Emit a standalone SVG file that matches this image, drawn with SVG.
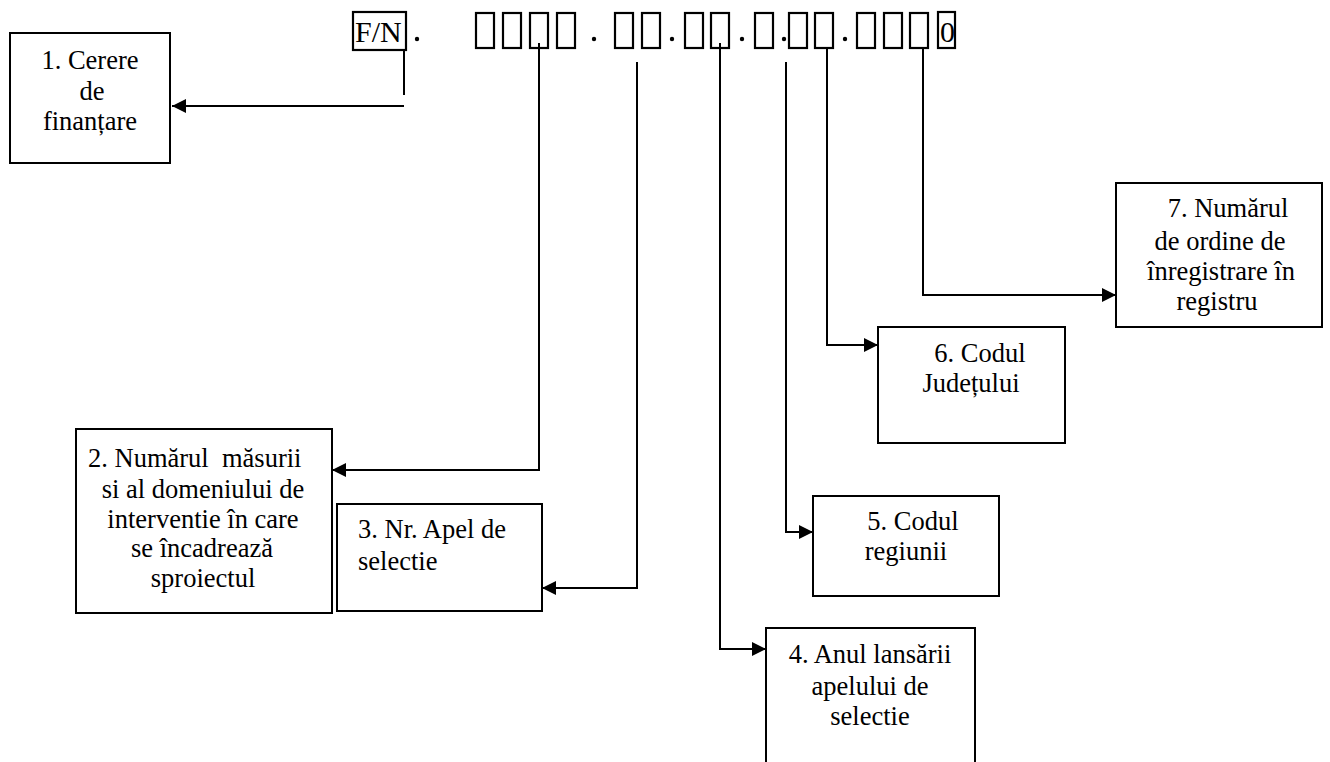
<svg xmlns="http://www.w3.org/2000/svg" width="1330" height="762" viewBox="0 0 1330 762">
<style>
  .box { fill: #fff; stroke: #000; stroke-width: 2; }
  .cell { fill: none; stroke: #000; stroke-width: 2.2; }
  .t { font-family: "Liberation Serif", "Times New Roman", serif; font-size: 26.5px; fill: #000; text-anchor: middle; }
  .l { text-anchor: start; }
  .code { font-family: "Liberation Serif", "Times New Roman", serif; font-size: 30px; fill: #000; }
  .conn { fill: none; stroke: #000; stroke-width: 2; }
</style>
<defs>
  <marker id="arr" markerUnits="userSpaceOnUse" markerWidth="14" markerHeight="14" refX="14" refY="7" orient="auto">
    <path d="M0,0 L14,7 L0,14 z" fill="#000"/>
  </marker>
</defs>
<rect width="1330" height="762" fill="#fff"/>

<g id="code">
  <rect class="cell" x="353" y="12" width="53" height="38"/>
  <text class="code" x="355" y="42">F/N</text>
  <circle cx="417" cy="39" r="2.2"/>
  <rect class="cell" x="476" y="13" width="18" height="35"/>
  <rect class="cell" x="503" y="13" width="18" height="35"/>
  <rect class="cell" x="530" y="13" width="18" height="35"/>
  <rect class="cell" x="557" y="13" width="18" height="35"/>
  <circle cx="594" cy="39" r="2.2"/>
  <rect class="cell" x="615" y="13" width="18" height="35"/>
  <rect class="cell" x="642" y="13" width="18" height="35"/>
  <circle cx="672" cy="39" r="2.2"/>
  <rect class="cell" x="685" y="13" width="18" height="35"/>
  <rect class="cell" x="711" y="13" width="18" height="35"/>
  <circle cx="742" cy="39" r="2.2"/>
  <rect class="cell" x="755" y="13" width="18" height="35"/>
  <circle cx="784" cy="39" r="2.2"/>
  <rect class="cell" x="789" y="13" width="18" height="35"/>
  <rect class="cell" x="815" y="13" width="18" height="35"/>
  <circle cx="845" cy="39" r="2.2"/>
  <rect class="cell" x="857" y="13" width="18" height="35"/>
  <rect class="cell" x="884" y="13" width="18" height="35"/>
  <rect class="cell" x="910" y="13" width="18" height="35"/>
  <rect class="cell" x="938" y="12" width="17" height="36"/>
  <text class="code" x="940" y="42">0</text>
</g>

<g id="connectors">
  <line class="conn" x1="404" y1="50" x2="404" y2="95"/>
  <line class="conn" x1="404" y1="106" x2="172" y2="106" marker-end="url(#arr)"/>
  <polyline class="conn" points="539,43 539,470 332,470" marker-end="url(#arr)"/>
  <polyline class="conn" points="637,62 637,588 542,588" marker-end="url(#arr)"/>
  <polyline class="conn" points="720,43 720,649 766,649" marker-end="url(#arr)"/>
  <polyline class="conn" points="786,62 786,532 813,532" marker-end="url(#arr)"/>
  <polyline class="conn" points="827,47 827,345 878,345" marker-end="url(#arr)"/>
  <polyline class="conn" points="923,47 923,295 1116,295" marker-end="url(#arr)"/>
</g>

<g id="node1">
  <rect class="box" x="10" y="33" width="160" height="130"/>
  <text class="t" x="90" y="69">1. Cerere</text>
  <text class="t" x="92" y="100">de</text>
  <text class="t" x="90" y="130">finanțare</text>
</g>

<g id="node2">
  <rect class="box" x="76" y="429" width="256" height="184"/>
  <text class="t l" x="88" y="467" xml:space="preserve">2. Numărul  măsurii</text>
  <text class="t" x="203" y="498">si al domeniului de</text>
  <text class="t" x="203" y="528">interventie în care</text>
  <text class="t" x="202" y="557">se încadrează</text>
  <text class="t" x="203" y="587">sproiectul</text>
</g>

<g id="node3">
  <rect class="box" x="337" y="504" width="205" height="107"/>
  <text class="t l" x="358" y="538">3. Nr. Apel de</text>
  <text class="t l" x="358" y="570">selectie</text>
</g>

<g id="node4">
  <rect class="box" x="766" y="628" width="209" height="140"/>
  <text class="t" x="870" y="663">4. Anul lansării</text>
  <text class="t" x="870" y="695">apelului de</text>
  <text class="t" x="870" y="725">selectie</text>
</g>

<g id="node5">
  <rect class="box" x="813" y="496" width="186" height="100"/>
  <text class="t" x="913" y="530">5. Codul</text>
  <text class="t" x="906" y="560">regiunii</text>
</g>

<g id="node6">
  <rect class="box" x="878" y="327" width="187" height="116"/>
  <text class="t" x="980" y="362">6. Codul</text>
  <text class="t" x="971" y="392">Județului</text>
</g>

<g id="node7">
  <rect class="box" x="1116" y="183" width="206" height="144"/>
  <text class="t" x="1228" y="217">7. Numărul</text>
  <text class="t" x="1220" y="250">de ordine de</text>
  <text class="t" x="1221" y="280">înregistrare în</text>
  <text class="t" x="1217" y="310">registru</text>
</g>
</svg>
